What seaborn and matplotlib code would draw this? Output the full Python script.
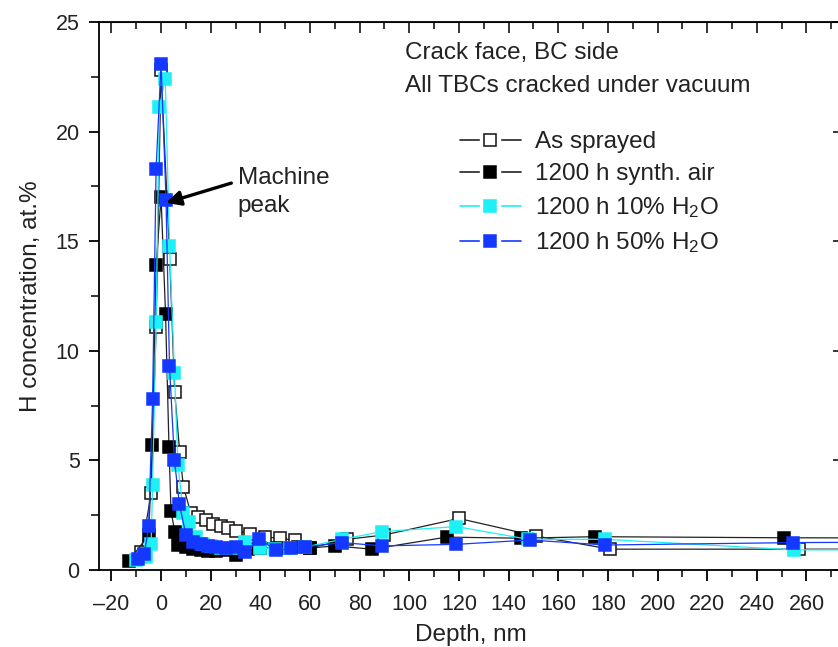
import numpy as np
import pandas as pd
import matplotlib
matplotlib.use("Agg")
import matplotlib.pyplot as plt
from matplotlib.lines import Line2D
from matplotlib.legend_handler import HandlerTuple
from matplotlib.ticker import MultipleLocator
import seaborn as sns

# ---------------- data ----------------
as_sprayed_x = [-8, -4, -2, 0, 3.5, 5.5, 7.5, 9, 12, 15, 18, 21, 24, 27, 30, 36, 42, 48, 54, 60, 75, 90, 120, 151, 181, 257, 350]
as_sprayed_y = [0.8, 3.5, 11.1, 22.8, 14.2, 8.1, 5.4, 3.8, 2.6, 2.4, 2.3, 2.1, 2.0, 1.9, 1.8, 1.65, 1.5, 1.45, 1.35, 1.0, 1.4, 1.6, 2.35, 1.55, 0.95, 0.95, 0.95]

synth_air_x = [-13, -5, -3.5, -2, 0, 1.8, 3.2, 4, 5.5, 6.7, 8, 10, 13, 16, 19, 22, 26, 30, 35, 40, 47, 55, 60, 70, 85, 115, 145, 175, 251, 350]
synth_air_y = [0.4, 1.6, 5.7, 13.9, 17.0, 11.7, 5.6, 2.7, 1.75, 1.15, 1.2, 1.05, 0.95, 0.9, 0.85, 0.85, 0.9, 0.7, 0.95, 1.0, 1.0, 1.05, 1.0, 1.1, 0.95, 1.5, 1.45, 1.52, 1.47, 1.45]

h2o10_x = [-10, -6, -4, -3.4, -2, -0.7, 1.7, 3.4, 5.4, 6.8, 9, 11.4, 14, 17, 20, 24, 28, 34, 40, 46, 52, 58, 73, 89, 119, 148, 179, 255, 350]
h2o10_y = [0.45, 0.6, 1.2, 3.9, 11.3, 21.1, 22.4, 14.8, 9.0, 4.8, 2.6, 2.2, 1.5, 1.2, 1.1, 1.0, 1.0, 1.26, 1.0, 0.95, 1.0, 1.05, 1.4, 1.75, 1.98, 1.4, 1.4, 0.92, 0.92]

h2o50_x = [-9.4, -6.7, -5, -3.4, -2, 0, 2, 3.4, 5.4, 7.4, 10, 13, 16, 19, 22, 26, 30, 34, 39.6, 46.4, 52.4, 57.8, 73, 89, 119, 148.5, 179, 254.7, 350]
h2o50_y = [0.5, 0.75, 2.0, 7.8, 18.3, 23.1, 16.9, 9.3, 5.0, 3.0, 1.6, 1.3, 1.2, 1.1, 1.05, 1.0, 1.05, 0.8, 1.4, 0.9, 1.0, 1.05, 1.25, 1.1, 1.17, 1.37, 1.14, 1.25, 1.3]

labels = ["As sprayed", "1200 h synth. air", "1200 h 10% H$_2$O", "1200 h 50% H$_2$O"]
x_ticks = list(range(-20, 261, 20))
y_ticks = [0, 5, 10, 15, 20, 25]

# ---------------- style ----------------
sns.set_style("ticks")
plt.rcParams["font.family"] = ["Liberation Sans", "DejaVu Sans"]
plt.rcParams["mathtext.fontset"] = "custom"
plt.rcParams["mathtext.rm"] = "Liberation Sans"
plt.rcParams["mathtext.it"] = "Liberation Sans:italic"
plt.rcParams["mathtext.bf"] = "Liberation Sans:bold"

CYAN = "#1ef0f5"
BLUE = "#1438ff"
TXT = "#222222"
FS = 17.5
series = [
    (as_sprayed_x, as_sprayed_y, "#222222", "white", "#111111"),
    (synth_air_x, synth_air_y, "#222222", "black", "black"),
    (h2o10_x, h2o10_y, CYAN, CYAN, CYAN),
    (h2o50_x, h2o50_y, BLUE, BLUE, BLUE),
]

fig = plt.figure(figsize=(8.38, 6.47), dpi=100)
ax = fig.add_axes([99 / 838, 1 - 570 / 647, (843.7 - 99) / 838, (570 - 22) / 647])

for (xs, ys, lc, fc, ec), lab in zip(series, labels):
    df = pd.DataFrame({"x": xs, "y": ys})
    sns.lineplot(data=df, x="x", y="y", ax=ax, sort=False, estimator=None,
                 color=lc, linewidth=0.9, marker="s", markersize=8.6,
                 markerfacecolor=fc, markeredgecolor=ec, markeredgewidth=1.1,
                 legend=False)

ax.set_xlim(-25, 275)
ax.set_ylim(0, 25)
ax.set_xticks(x_ticks)
ax.set_xticklabels([str(t).replace("-", "\u2013") for t in x_ticks])
ax.set_yticks(y_ticks)
ax.xaxis.set_minor_locator(MultipleLocator(10))
ax.yaxis.set_minor_locator(MultipleLocator(2.5))
ax.tick_params(axis="both", which="major", labelsize=15.5, width=1.3, color="black", labelcolor=TXT)
ax.tick_params(axis="x", which="major", direction="out", length=8, pad=9)
ax.tick_params(axis="x", which="minor", direction="out", length=5, width=1.3)
ax.tick_params(axis="y", which="major", direction="out", length=7, pad=7)
ax.tick_params(axis="y", which="minor", direction="out", length=6, width=1.3)
for s in ax.spines.values():
    s.set_visible(True)
    s.set_linewidth(1.3)
    s.set_color("black")

ax.set_xlabel("Depth, nm", fontsize=FS, labelpad=7, color=TXT)
ax.set_ylabel("H concentration, at.%", fontsize=FS, labelpad=10, color=TXT)

# top / right inward ticks
secx = ax.secondary_xaxis("top")
secx.set_xticks(x_ticks)
secx.xaxis.set_minor_locator(MultipleLocator(10))
secx.tick_params(axis="x", which="major", direction="in", length=8, width=1.3, labeltop=False)
secx.tick_params(axis="x", which="minor", direction="in", length=5, width=1.3)
secy = ax.secondary_yaxis("right")
secy.set_yticks(y_ticks)
secy.yaxis.set_minor_locator(MultipleLocator(2.5))
secy.tick_params(axis="y", which="major", direction="in", length=8, width=1.3, labelright=False)
secy.tick_params(axis="y", which="minor", direction="in", length=4, width=1.3)

# text annotations
ax.text(98.1, 23.6, "Crack face, BC side", fontsize=FS, va="center", ha="left", color=TXT)
ax.text(98.1, 22.08, "All TBCs cracked under vacuum", fontsize=FS, va="center", ha="left", color=TXT)
ax.text(30.8, 17.25, "Machine\npeak", fontsize=FS, va="center", ha="left", linespacing=1.38, color=TXT)
ax.annotate("", xy=(2.0, 16.75), xytext=(28.3, 17.65),
            arrowprops=dict(arrowstyle="-|>", lw=2.4, color="black", mutation_scale=22,
                            shrinkA=0, shrinkB=0))

# legend with gap around marker
handles = []
for (xs, ys, lc, fc, ec) in series:
    ln = Line2D([], [], color=lc, linewidth=1.2)
    wm = Line2D([], [], linestyle="none", marker="s", markersize=14, markerfacecolor="white",
                markeredgecolor="white")
    mk = Line2D([], [], linestyle="none", marker="s", markersize=8.0, markerfacecolor=fc,
                markeredgecolor=ec, markeredgewidth=1.1)
    handles.append((ln, wm, mk))
leg = ax.legend(handles, labels, handler_map={tuple: HandlerTuple(ndivide=1, pad=0)},
                loc="upper left", bbox_to_anchor=(460 / 838, 1 - 131 / 647),
                bbox_transform=fig.transFigure, frameon=False, fontsize=FS,
                handlelength=2.5, handletextpad=0.6, labelspacing=0.42, borderpad=0,
                borderaxespad=0)
for t in leg.get_texts():
    t.set_color(TXT)

fig.savefig("out.png", dpi=100)
